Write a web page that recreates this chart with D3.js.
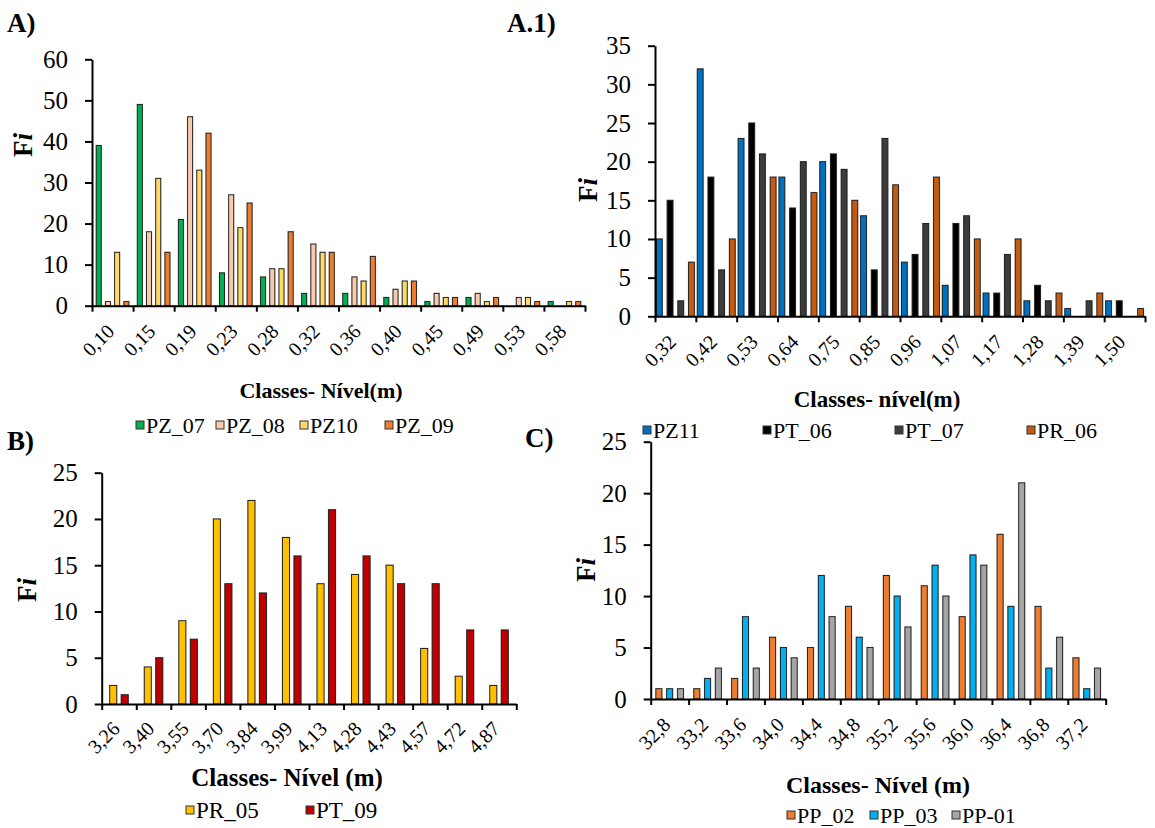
<!DOCTYPE html>
<html><head><meta charset="utf-8">
<script src="https://cdn.jsdelivr.net/npm/d3@7"></script>
<style>
body{margin:0;background:#fff}
svg{display:block}
text{font-family:"Liberation Serif","Times New Roman",serif;fill:#000}
</style>
</head><body>
<svg id="c" width="1155" height="828"></svg>
<script>
// ---------- DATA ----------
// Panel A
const catsA = ["0,10","0,15","0,19","0,23","0,28","0,32","0,36","0,40","0,45","0,49","0,53","0,58"];
const namesA = ["PZ_07","PZ_08","PZ10","PZ_09"];
const pz07 = [39,49,21,8,7,3,3,2,1,2,0,1];
const pz08 = [1,18,46,27,9,15,7,4,3,3,2,0];
const pz10 = [13,31,33,19,9,13,6,6,2,1,2,1];
const pz09 = [1,13,42,25,18,13,12,6,2,2,1,1];
const ticksA = [0,10,20,30,40,50,60];
// Panel A.1
const catsA1 = ["0,32","0,42","0,53","0,64","0,75","0,85","0,96","1,07","1,17","1,28","1,39","1,50"];
const namesA1 = ["PZ11","PT_06","PT_07","PR_06"];
const pz11 = [10,32,23,18,20,13,7,4,3,2,1,2];
const pt06 = [15,18,25,14,21,6,8,12,3,4,0,2];
const pt07 = [2,6,21,20,19,23,12,13,8,2,2,0];
const pr06 = [7,10,18,16,15,17,18,10,10,3,3,1];
const ticksA1 = [0,5,10,15,20,25,30,35];
// Panel B
const catsB = ["3,26","3,40","3,55","3,70","3,84","3,99","4,13","4,28","4,43","4,57","4,72","4,87"];
const namesB = ["PR_05","PT_09"];
const pr05 = [2,4,9,20,22,18,13,14,15,6,3,2];
const pt09 = [1,5,7,13,12,16,21,16,13,13,8,8];
const ticksB = [0,5,10,15,20,25];
// Panel C
const catsC = ["32,8","33,2","33,6","34,0","34,4","34,8","35,2","35,6","36,0","36,4","36,8","37,2"];
const namesC = ["PP_02","PP_03","PP-01"];
const pp02 = [1,1,2,6,5,9,12,11,8,16,9,4];
const pp03 = [1,2,8,5,12,6,10,13,14,9,3,1];
const pp01 = [1,3,3,4,8,5,7,10,13,21,6,3];
const ticksC = [0,5,10,15,20,25];

// ---------- DRAW ----------
const svg = d3.select("#c");
const SERIF = '"Liberation Serif","Times New Roman",serif';

function panel(cfg){
  const g = svg.append("g");
  const x = d3.scaleBand().domain(cfg.cats).range([cfg.x0, cfg.x1]).padding(0);
  const y = d3.scaleLinear().domain([0, cfg.yMax]).range([cfg.yB, cfg.yT]);
  const n = cfg.names.length;
  const p = 1 - cfg.bw / cfg.pitch;
  const L = cfg.pitch * (n - p);
  const xs = d3.scaleBand().domain(cfg.names).range([-L/2, L/2]).paddingInner(p).paddingOuter(0);

  cfg.series.forEach((vals, si) => {
    const data = vals.map((v,i)=>({v, c: cfg.cats[i]})).filter(d => d.v > 0);
    const nm = cfg.names[si];
    g.append("g").selectAll("rect").data(data).join("rect")
      .attr("x", d => x(d.c) + x.bandwidth()/2 + xs(nm) - 0.8)
      .attr("y", d => y(d.v) - 0.8)
      .attr("width", xs.bandwidth() + 1.6)
      .attr("height", d => y(0) - y(d.v) + 0.8)
      .attr("fill", "#c8c8c8");
    g.append("g").selectAll("rect").data(data).join("rect")
      .attr("x", d => x(d.c) + x.bandwidth()/2 + xs(nm))
      .attr("y", d => y(d.v))
      .attr("width", xs.bandwidth())
      .attr("height", d => y(0) - y(d.v))
      .attr("fill", cfg.colors[si])
      .attr("stroke", "#1a1a1a").attr("stroke-width", 0.9);
  });

  // y axis
  const ya = d3.axisLeft(y).tickValues(cfg.yTicks).tickSize(7).tickSizeOuter(0).tickPadding(17).tickFormat(d3.format("d"));
  const gy = g.append("g").attr("transform", `translate(${cfg.x0},0)`).call(ya);
  gy.attr("font-family", SERIF);
  gy.select(".domain").attr("stroke-width", 2);
  gy.selectAll(".tick line").attr("stroke-width", 2);
  gy.selectAll(".tick text").style("font-size", "25px").style("font-family", SERIF);

  // x axis (ticks at category boundaries)
  const xi = d3.scaleLinear().domain([0, cfg.cats.length]).range([cfg.x0, cfg.x1]);
  const xa = d3.axisBottom(xi).tickValues(d3.range(cfg.cats.length + 1)).tickSize(6).tickSizeOuter(0).tickFormat("");
  const gx = g.append("g").attr("transform", `translate(0,${cfg.yB})`).call(xa);
  gx.select(".domain").attr("stroke-width", 2);
  gx.selectAll(".tick line").attr("stroke-width", 2);

  // category labels
  g.append("g").selectAll("text").data(cfg.cats).join("text")
    .attr("transform", d => `translate(${x(d) + x.bandwidth()/2 + cfg.lx},${cfg.yB + cfg.ly}) rotate(-45)`)
    .attr("text-anchor", "end")
    .style("font-size", cfg.lfs + "px")
    .text(d => d);

  // axis title
  g.append("text").attr("x", cfg.tx).attr("y", cfg.ty).attr("text-anchor", "middle")
    .style("font-size", cfg.tfs + "px").style("font-weight", "bold").text(cfg.title);

  // Fi
  const fi = g.append("text").attr("transform", `translate(${cfg.fx},${cfg.fy}) rotate(-90)`)
    .attr("text-anchor", "middle").style("font-size", "27px").style("font-weight", "bold");
  fi.append("tspan").text("F");
  fi.append("tspan").style("font-style", "italic").text("i");

  // panel label
  g.append("text").attr("x", cfg.px).attr("y", cfg.py).style("font-size", "27px").style("font-weight", "bold").text(cfg.plabel);

  // legend
  const lg = g.append("g").selectAll("g").data(cfg.names).join("g")
    .attr("transform", (d,i) => `translate(${cfg.legX[i]},${cfg.legY})`);
  lg.append("rect").attr("x", 0).attr("y", -4).attr("width", 8).attr("height", 8)
    .attr("fill", (d,i) => cfg.colors[i]).attr("stroke", "#333").attr("stroke-width", 1);
  lg.append("text").attr("x", 10).attr("y", 7.5).style("font-size", cfg.gfs + "px").text(d => d);
}

panel({cats: catsA, names: namesA, series: [pz07, pz08, pz10, pz09],
  colors: ["#00B050", "#F8CBAD", "#FFD966", "#ED7D31"],
  x0: 92, x1: 585, yT: 59.3, yB: 305.7, yMax: 60, yTicks: ticksA, bw: 5, pitch: 9.2,
  lx: 3, ly: 27, lfs: 20,
  title: "Classes- Nível(m)", tx: 321, ty: 398, tfs: 22,
  fx: 32, fy: 145, plabel: "A)", px: 7, py: 32,
  legX: [136, 216, 300, 385], legY: 425, gfs: 22});

panel({cats: catsA1, names: namesA1, series: [pz11, pt06, pt07, pr06],
  colors: ["#0070C0", "#000000", "#3C3C3C", "#C55A11"],
  x0: 655, x1: 1145, yT: 45.7, yB: 316.3, yMax: 35, yTicks: ticksA1, bw: 5.8, pitch: 10.7,
  lx: 2, ly: 27, lfs: 20,
  title: "Classes- nível(m)", tx: 877, ty: 407, tfs: 23,
  fx: 597, fy: 190, plabel: "A.1)", px: 507, py: 32,
  legX: [643, 763, 895, 1027], legY: 430, gfs: 22});

panel({cats: catsB, names: namesB, series: [pr05, pt09],
  colors: ["#FFC000", "#C00000"],
  x0: 101.7, x1: 516.3, yT: 472.7, yB: 704, yMax: 25, yTicks: ticksB, bw: 7, pitch: 11.5,
  lx: 2, ly: 26, lfs: 20,
  title: "Classes- Nível (m)", tx: 287, ty: 786, tfs: 25,
  fx: 36, fy: 590, plabel: "B)", px: 7, py: 450,
  legX: [186, 306], legY: 810, gfs: 23});

panel({cats: catsC, names: namesC, series: [pp02, pp03, pp01],
  colors: ["#ED7D31", "#00B0F0", "#A5A5A5"],
  x0: 650.7, x1: 1105.7, yT: 441.7, yB: 699, yMax: 25, yTicks: ticksC, bw: 6, pitch: 10.8,
  lx: 2, ly: 27, lfs: 20,
  title: "Classes- Nível (m)", tx: 878, ty: 793, tfs: 24,
  fx: 595, fy: 570, plabel: "C)", px: 525, py: 447,
  legX: [787, 870, 952], legY: 815, gfs: 22});
</script>
</body></html>
